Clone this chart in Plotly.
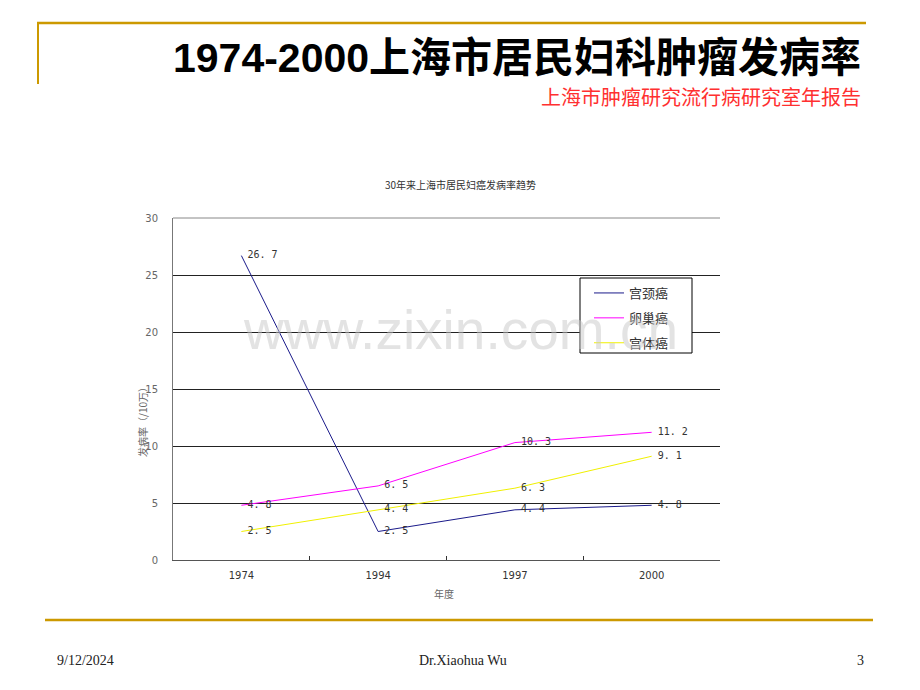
import plotly.graph_objects as go

years = ["1974", "1994", "1997", "2000"]
cervical = [26.7, 2.5, 4.4, 4.8]      # 宫颈癌
ovarian = [4.8, 6.5, 10.3, 11.2]      # 卵巢癌
endometrial = [2.5, 4.4, 6.3, 9.1]    # 宫体癌
series_names = ["宫颈癌", "卵巢癌", "宫体癌"]
y_ticks = [0, 5, 10, 15, 20, 25, 30]

OFF = 8  # page body margin
W, H = 912, 682
L, R, T, B = 173 - OFF, 720 - OFF, 218 - OFF, 560 - OFF


def px(x):
    return (x - OFF - L) / (R - L)


def py(y):
    return (B - (y - OFF)) / (B - T)


def lab(vals):
    return [" " + f"{v:.1f}".replace(".", ". ") for v in vals]


cjk = "Noto Sans CJK SC, Liberation Sans, sans-serif"
colors = ["#1a1a8a", "#ff00ff", "#f0f000"]
fig = go.Figure()
for i, (name, vals, c) in enumerate(zip(series_names, [cervical, ovarian, endometrial], colors)):
    fig.add_trace(go.Scatter(
        x=years, y=vals, name=name, mode="lines+text", legendgroup=f"g{i}",
        text=lab(vals), textposition="middle right",
        textfont=dict(size=10, color="#333333", family="DejaVu Sans Mono, monospace"),
        line=dict(color=c, width=1),
    ))

fig.update_layout(
    width=W, height=H,
    margin=dict(l=L, r=W - R, t=T, b=H - B),
    paper_bgcolor="white", plot_bgcolor="white",
    showlegend=True,
    legend=dict(
        x=px(589), y=py(278), xanchor="left", yanchor="top",
        bgcolor="rgba(0,0,0,0)", borderwidth=0,
        font=dict(size=13, color="#333333", family=cjk),
        tracegroupgap=5, itemwidth=30,
    ),
    font=dict(family=cjk),
)
fig.update_xaxes(
    type="category", range=[-0.5, 3.5],
    showline=True, linecolor="#555555", linewidth=1,
    ticks="inside", tickson="boundaries", ticklen=4, tickcolor="#333333",
    showgrid=False, ticklabelstandoff=6,
    tickfont=dict(size=10, color="#333333", family="DejaVu Sans, sans-serif"),
)
fig.update_yaxes(
    range=[0, 30], tickvals=y_ticks,
    showline=True, linecolor="#777777", linewidth=1,
    showgrid=True, gridcolor="#222222", gridwidth=1,
    zeroline=False, ticks="", ticklabelstandoff=12,
    tickfont=dict(size=10, color="#666666", family="DejaVu Sans, sans-serif"),
)

gold = "#CC9900"
shapes = [
    dict(type="line", xref="paper", yref="paper", x0=px(37), x1=px(866), y0=py(23), y1=py(23),
         line=dict(color=gold, width=2.5)),
    dict(type="line", xref="paper", yref="paper", x0=px(38), x1=px(38), y0=py(23), y1=py(84),
         line=dict(color=gold, width=2)),
    dict(type="line", xref="paper", yref="paper", x0=px(45), x1=px(873), y0=py(620), y1=py(620),
         line=dict(color=gold, width=2.5)),
    dict(type="line", xref="paper", yref="paper", x0=0, x1=1, y0=1, y1=1,
         line=dict(color="#888888", width=1)),
    dict(type="rect", xref="paper", yref="paper", x0=px(580), x1=px(692), y0=py(278), y1=py(353),
         fillcolor="white", line=dict(color="black", width=1), layer="above"),
]
fig.update_layout(shapes=shapes)

ann = [
    dict(text="www.zixin.com.cn", x=px(460), y=py(330), xanchor="center", yanchor="middle",
         font=dict(size=55, color="rgba(200,200,200,0.5)", family="Liberation Sans, Arial")),
    dict(text="<b>1974-2000上海市居民妇科肿瘤发病率</b>", x=px(863), y=py(58), xanchor="right", yanchor="middle",
         font=dict(size=41, color="black", family="Liberation Sans, Noto Sans CJK SC")),
    dict(text="上海市肿瘤研究流行病研究室年报告", x=px(863), y=py(96), xanchor="right", yanchor="middle",
         font=dict(size=20, color="#ff3030", family=cjk)),
    dict(text="30年来上海市居民妇癌发病率趋势", x=px(460), y=py(184), xanchor="center", yanchor="middle",
         font=dict(size=10, color="#333333", family=cjk)),
    dict(text="发病率（/10万）", x=px(142), y=py(420), xanchor="center", yanchor="middle", textangle=-90,
         font=dict(size=10, color="#666666", family=cjk)),
    dict(text="年度", x=px(444), y=py(593), xanchor="center", yanchor="middle",
         font=dict(size=10, color="#666666", family=cjk)),
    dict(text="9/12/2024", x=px(55), y=py(660), xanchor="left", yanchor="middle",
         font=dict(size=14, color="#222222", family="Liberation Serif, serif")),
    dict(text="Dr.Xiaohua Wu", x=px(463), y=py(660), xanchor="center", yanchor="middle",
         font=dict(size=14, color="#222222", family="Liberation Serif, serif")),
    dict(text="3", x=px(866), y=py(660), xanchor="right", yanchor="middle",
         font=dict(size=14, color="#222222", family="Liberation Serif, serif")),
]
for a in ann:
    a.update(xref="paper", yref="paper", showarrow=False)
fig.update_layout(annotations=ann)

fig.write_html("out.html")
